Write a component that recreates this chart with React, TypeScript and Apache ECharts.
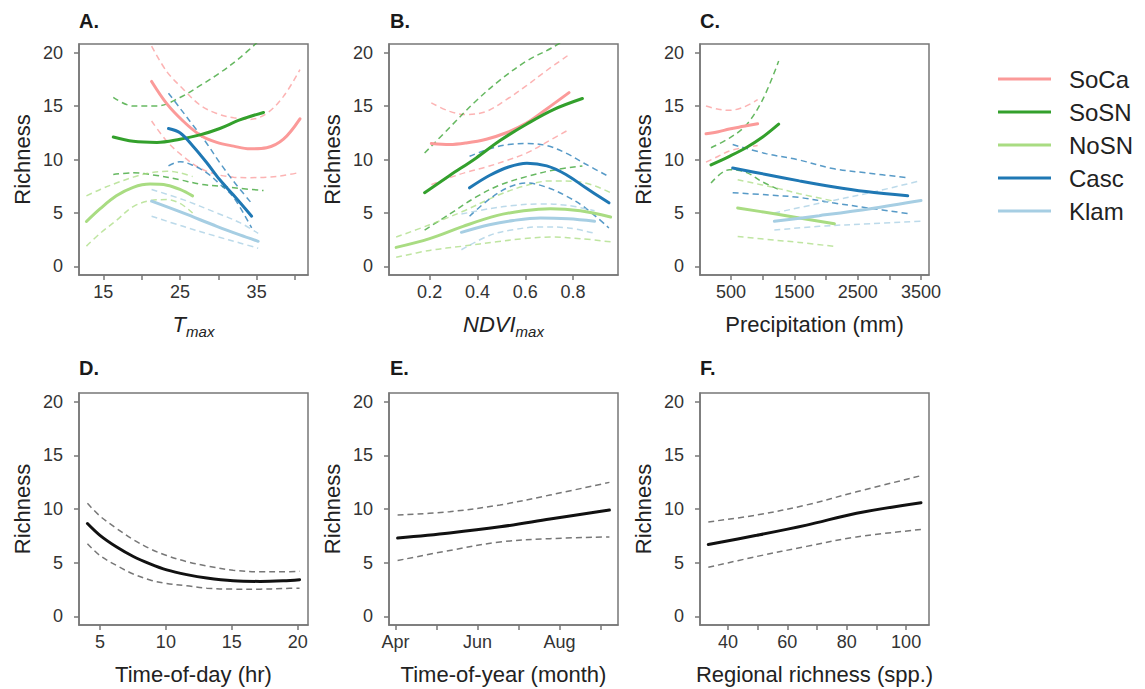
import React, { useEffect, useRef } from "react";
import * as echarts from "echarts";

// ---------- DATA ----------
const REGIONS = ["SoCa", "SoSN", "NoSN", "Casc", "Klam"];
const COLORS = ["#FB9A99", "#33A02C", "#A9DC82", "#1F78B4", "#A6CEE3"];

// Panel A: Tmax
const A_SoCa_x = [21.3, 23.3, 25.4, 27.6, 29.8, 32.0, 34.1, 36.3, 38.5, 40.65];
const A_SoCa_fit = [17.3, 15.2, 13.6, 12.3, 11.6, 11.25, 11.0, 11.1, 11.9, 13.8];
const A_SoCa_hi = [20.6, 18.2, 16.6, 15.1, 14.3, 13.9, 13.75, 14.3, 15.9, 18.4];
const A_SoCa_lo = [13.6, 11.7, 10.3, 9.2, 8.6, 8.35, 8.3, 8.35, 8.5, 8.8];
const A_SoSN_x = [16.3, 18.9, 22.0, 25.0, 27.6, 30.2, 32.8, 35.9];
const A_SoSN_fit = [12.1, 11.7, 11.6, 11.9, 12.3, 12.9, 13.7, 14.4];
const A_SoSN_hi = [15.8, 15.0, 15.0, 15.8, 16.9, 18.1, 19.5, 21.5];
const A_SoSN_lo = [8.6, 8.75, 8.5, 8.1, 7.7, 7.5, 7.3, 7.1];
const A_NoSN_x = [12.8, 14.6, 16.7, 18.9, 21.1, 23.3, 25.0, 26.65];
const A_NoSN_fit = [4.2, 5.4, 6.6, 7.4, 7.7, 7.6, 7.2, 6.6];
const A_NoSN_hi = [6.6, 7.2, 7.8, 8.35, 8.75, 8.9, 8.75, 8.4];
const A_NoSN_lo = [1.9, 3.1, 4.3, 5.6, 6.15, 6.25, 5.9, 5.0];
const A_Casc_x = [23.5, 25.0, 26.7, 28.5, 30.2, 31.95, 34.35];
const A_Casc_fit = [12.9, 12.5, 11.25, 9.7, 8.1, 6.7, 4.7];
const A_Casc_hi = [16.2, 14.8, 13.2, 11.5, 9.7, 8.0, 5.9];
const A_Casc_lo = [9.4, 9.8, 9.45, 8.75, 7.7, 6.5, 3.6];
const A_Klam_x = [21.3, 25.4, 29.8, 32.8, 35.2];
const A_Klam_fit = [6.1, 5.0, 3.75, 2.95, 2.35];
const A_Klam_hi = [7.2, 6.25, 5.0, 4.1, 3.1];
const A_Klam_lo = [4.7, 3.75, 2.8, 2.2, 1.7];

// Panel B: NDVImax
const B_SoCa_x = [0.207, 0.284, 0.353, 0.437, 0.521, 0.605, 0.688, 0.783];
const B_SoCa_fit = [11.5, 11.4, 11.55, 11.9, 12.5, 13.4, 14.7, 16.25];
const B_SoCa_hi = [15.3, 14.5, 14.2, 14.5, 15.6, 16.9, 18.3, 19.8];
const B_SoCa_lo = [7.65, 8.3, 8.8, 9.3, 9.9, 10.6, 11.6, 12.8];
const B_SoSN_x = [0.179, 0.284, 0.395, 0.493, 0.605, 0.716, 0.839];
const B_SoSN_fit = [6.9, 8.5, 10.15, 11.75, 13.3, 14.65, 15.7];
const B_SoSN_hi = [10.6, 13.0, 15.5, 17.4, 19.2, 20.5, 22.2];
const B_SoSN_lo = [3.4, 4.9, 6.5, 7.6, 8.4, 9.0, 9.4];
const B_NoSN_x = [0.06, 0.2, 0.34, 0.48, 0.593, 0.705, 0.83, 0.957];
const B_NoSN_fit = [1.78, 2.6, 3.75, 4.75, 5.2, 5.4, 5.2, 4.62];
const B_NoSN_hi = [2.75, 3.9, 5.16, 6.6, 7.5, 8.0, 7.9, 6.9];
const B_NoSN_lo = [0.85, 1.5, 1.9, 2.3, 2.6, 2.75, 2.6, 2.3];
const B_Casc_x = [0.367, 0.45, 0.53, 0.607, 0.69, 0.77, 0.85, 0.95];
const B_Casc_fit = [7.35, 8.5, 9.3, 9.65, 9.4, 8.6, 7.4, 5.95];
const B_Casc_hi = [10.3, 11.0, 11.4, 11.5, 11.3, 10.6, 9.6, 8.4];
const B_Casc_lo = [4.7, 6.3, 7.4, 7.8, 7.4, 6.6, 5.5, 3.6];
const B_Klam_x = [0.333, 0.45, 0.55, 0.663, 0.78, 0.89];
const B_Klam_fit = [3.19, 3.9, 4.3, 4.53, 4.45, 4.22];
const B_Klam_hi = [4.9, 5.4, 5.7, 5.85, 5.7, 5.2];
const B_Klam_lo = [1.56, 2.9, 3.44, 3.7, 3.6, 3.1];

// Panel C: Precipitation (mm)
const C_SoCa_x = [105, 300, 473, 700, 920];
const C_SoCa_fit = [12.4, 12.6, 12.85, 13.1, 13.34];
const C_SoCa_hi = [15.0, 14.7, 14.6, 14.9, 15.6];
const C_SoCa_lo = [9.75, 10.3, 10.8, 11.1, 11.3];
const C_SoSN_x = [184, 474, 737, 1000, 1252];
const C_SoSN_fit = [9.5, 10.3, 11.1, 12.1, 13.3];
const C_SoSN_hi = [11.1, 12.0, 13.2, 15.6, 19.2];
const C_SoSN_lo = [7.8, 9.05, 8.8, 7.9, 7.2];
const C_NoSN_x = [605, 1211, 1579, 2132];
const C_NoSN_fit = [5.47, 4.9, 4.53, 4.0];
const C_NoSN_hi = [8.1, 7.34, 6.8, 6.1];
const C_NoSN_lo = [2.8, 2.45, 2.25, 1.87];
const C_Casc_x = [526, 1053, 1579, 2105, 2632, 3290];
const C_Casc_fit = [9.2, 8.6, 8.0, 7.45, 7.0, 6.6];
const C_Casc_hi = [11.4, 10.55, 9.95, 9.15, 8.75, 8.3];
const C_Casc_lo = [6.9, 6.7, 6.45, 5.95, 5.5, 4.95];
const C_Klam_x = [1184, 1893, 2700, 3500];
const C_Klam_fit = [4.22, 4.75, 5.4, 6.16];
const C_Klam_hi = [5.0, 5.9, 6.9, 8.03];
const C_Klam_lo = [3.4, 3.75, 4.0, 4.22];

// Panel D: Time-of-day (hr)
const D_x = [4.05, 5, 6.27, 7.53, 8.8, 10.06, 11.58, 13.1, 15.1, 17.15, 18.9, 20.14];
const D_fit = [8.65, 7.55, 6.46, 5.58, 4.89, 4.33, 3.89, 3.57, 3.32, 3.26, 3.32, 3.42];
const D_hi = [10.53, 9.34, 8.18, 7.15, 6.3, 5.67, 5.1, 4.7, 4.3, 4.15, 4.15, 4.2];
const D_lo = [6.77, 5.67, 4.73, 3.95, 3.39, 3.07, 2.85, 2.63, 2.54, 2.54, 2.6, 2.63];

// Panel E: Time-of-year (month number)
const E_x = [4.05, 5.32, 6.55, 7.77, 9.22];
const E_fit = [7.3, 7.77, 8.34, 9.06, 9.9];
const E_hi = [9.44, 9.75, 10.38, 11.3, 12.48];
const E_lo = [5.2, 6.14, 6.93, 7.24, 7.4];

// Panel F: Regional richness (spp.)
const F_x = [33.4, 49.7, 66.5, 83.3, 105];
const F_fit = [6.7, 7.55, 8.5, 9.6, 10.59];
const F_hi = [8.8, 9.44, 10.38, 11.6, 13.1];
const F_lo = [4.57, 5.58, 6.52, 7.4, 8.09];

// Tick values / labels
const Y_TICKS = [0, 5, 10, 15, 20];
const A_TICKS = [15, 20, 25, 30, 35, 40];
const A_LABELS = [15, 25, 35];
const B_TICKS = [0.2, 0.4, 0.6, 0.8];
const C_TICKS = [500, 1000, 1500, 2000, 2500, 3000, 3500];
const C_LABELS = [500, 1500, 2500, 3500];
const D_TICKS = [5, 10, 15, 20];
const E_TICKS = [4, 5, 6, 7, 8, 9];
const E_LABELS = [4, 6, 8];
const MONTHS: Record<number, string> = { 4: "Apr", 6: "Jun", 8: "Aug" };
const F_TICKS = [40, 50, 60, 70, 80, 90, 100];
const F_LABELS = [40, 60, 80, 100];

// ---------- HELPERS ----------
const FONT = '"Liberation Sans", Arial, Helvetica, sans-serif';
const BOX = "#777";

function zip(xs: number[], ys: number[]) {
  return xs.map((x, i) => [x, ys[i]]);
}

function fitSeries(gi: number, name: string, xs: number[], ys: number[], color: string, width = 3) {
  return {
    type: "line",
    name,
    xAxisIndex: gi,
    yAxisIndex: gi,
    data: zip(xs, ys),
    smooth: 0.35,
    showSymbol: false,
    symbol: "none",
    lineStyle: { color, width, type: "solid", cap: "round" },
    itemStyle: { color },
    z: 3,
  };
}

function ciSeries(gi: number, name: string, xs: number[], ys: number[], color: string, opacity = 0.75) {
  return {
    type: "line",
    name,
    xAxisIndex: gi,
    yAxisIndex: gi,
    data: zip(xs, ys),
    smooth: 0.35,
    showSymbol: false,
    symbol: "none",
    lineStyle: { color, width: 1.5, type: [6, 4], opacity },
    itemStyle: { color },
    z: 2,
  };
}

function xAxis(gi: number, min: number, max: number, ticks: number[], labels: number[], name: any, rich?: any, fmt?: (v: number) => string) {
  return {
    type: "value",
    gridIndex: gi,
    min,
    max,
    splitLine: { show: false },
    axisLine: { show: true, onZero: false, lineStyle: { color: BOX, width: 1.5 } },
    axisTick: { show: true, length: 5, customValues: ticks, lineStyle: { color: BOX, width: 1.5 } },
    axisLabel: {
      customValues: labels,
      fontSize: 18,
      color: "#333",
      fontFamily: FONT,
      margin: 8,
      formatter: fmt || ((v: number) => String(v)),
    },
    name,
    nameLocation: "middle",
    nameGap: 38,
    nameTextStyle: { fontSize: 22, color: "#222", fontFamily: FONT, rich },
  };
}

function yAxis(gi: number) {
  return {
    type: "value",
    gridIndex: gi,
    min: -0.8,
    max: 20.8,
    splitLine: { show: false },
    axisLine: { show: true, onZero: false, lineStyle: { color: BOX, width: 1.5 } },
    axisTick: { show: true, length: 5, customValues: Y_TICKS, lineStyle: { color: BOX, width: 1.5 } },
    axisLabel: { customValues: Y_TICKS, fontSize: 18, color: "#333", fontFamily: FONT, margin: 16 },
    name: "Richness",
    nameLocation: "middle",
    nameGap: 46,
    nameTextStyle: { fontSize: 22, color: "#222", fontFamily: FONT },
  };
}

const SUB_RICH = {
  i: { fontSize: 22, fontStyle: "italic", fontFamily: FONT, color: "#222", lineHeight: 26, verticalAlign: "top" },
  s: { fontSize: 15, fontStyle: "italic", fontFamily: FONT, color: "#222", lineHeight: 15, verticalAlign: "bottom" },
};

export default function App() {
  const ref = useRef<HTMLDivElement>(null);

  useEffect(() => {
    if (!ref.current) return;
    const chart = echarts.init(ref.current, undefined, { renderer: "svg" });

    const grids = [
      { left: 79, top: 44, width: 229, height: 231 },
      { left: 389, top: 44, width: 229, height: 231 },
      { left: 700, top: 44, width: 229, height: 231 },
      { left: 79, top: 393, width: 229, height: 232 },
      { left: 389, top: 393, width: 229, height: 232 },
      { left: 700, top: 393, width: 229, height: 232 },
    ].map((g) => ({ ...g, show: true, borderColor: BOX, borderWidth: 1.5, containLabel: false, outerBoundsMode: "none" }));

    const regionData: any[] = [
      [0, [A_SoCa_x, A_SoCa_fit, A_SoCa_hi, A_SoCa_lo], [A_SoSN_x, A_SoSN_fit, A_SoSN_hi, A_SoSN_lo], [A_NoSN_x, A_NoSN_fit, A_NoSN_hi, A_NoSN_lo], [A_Casc_x, A_Casc_fit, A_Casc_hi, A_Casc_lo], [A_Klam_x, A_Klam_fit, A_Klam_hi, A_Klam_lo]],
      [1, [B_SoCa_x, B_SoCa_fit, B_SoCa_hi, B_SoCa_lo], [B_SoSN_x, B_SoSN_fit, B_SoSN_hi, B_SoSN_lo], [B_NoSN_x, B_NoSN_fit, B_NoSN_hi, B_NoSN_lo], [B_Casc_x, B_Casc_fit, B_Casc_hi, B_Casc_lo], [B_Klam_x, B_Klam_fit, B_Klam_hi, B_Klam_lo]],
      [2, [C_SoCa_x, C_SoCa_fit, C_SoCa_hi, C_SoCa_lo], [C_SoSN_x, C_SoSN_fit, C_SoSN_hi, C_SoSN_lo], [C_NoSN_x, C_NoSN_fit, C_NoSN_hi, C_NoSN_lo], [C_Casc_x, C_Casc_fit, C_Casc_hi, C_Casc_lo], [C_Klam_x, C_Klam_fit, C_Klam_hi, C_Klam_lo]],
    ];

    const series: any[] = [];
    regionData.forEach((panel) => {
      const gi = panel[0];
      REGIONS.forEach((r, k) => {
        const [xs, fit] = panel[k + 1];
        series.push(fitSeries(gi, r, xs, fit, COLORS[k]));
      });
    });
    regionData.forEach((panel) => {
      const gi = panel[0];
      REGIONS.forEach((r, k) => {
        const [xs, , hi, lo] = panel[k + 1];
        series.push(ciSeries(gi, r, xs, hi, COLORS[k]));
        series.push(ciSeries(gi, r, xs, lo, COLORS[k]));
      });
    });
    const bottom: any[] = [
      [3, D_x, D_fit, D_hi, D_lo],
      [4, E_x, E_fit, E_hi, E_lo],
      [5, F_x, F_fit, F_hi, F_lo],
    ];
    bottom.forEach(([gi, xs, fit, hi, lo]) => {
      series.push(fitSeries(gi, "overall", xs, fit, "#111", 3));
      series.push(ciSeries(gi, "overall", xs, hi, "#777", 1));
      series.push(ciSeries(gi, "overall", xs, lo, "#777", 1));
    });

    const panelLabel = (t: string, x: number, y: number) => ({
      type: "text",
      x,
      y,
      style: { text: t, font: `bold 20px ${FONT}`, fill: "#1a1a1a", textVerticalAlign: "middle", verticalAlign: "middle" },
    });

    chart.setOption({
      animation: false,
      backgroundColor: "#fff",
      grid: grids,
      xAxis: [
        xAxis(0, 11.83, 41.7, A_TICKS, A_LABELS, "{i|T}{s|max}", SUB_RICH),
        xAxis(1, 0.03, 0.988, B_TICKS, B_TICKS, "{i|NDVI}{s|max}", SUB_RICH),
        xAxis(2, 10, 3626, C_TICKS, C_LABELS, "Precipitation (mm)"),
        xAxis(3, 3.41, 20.78, D_TICKS, D_TICKS, "Time-of-day (hr)"),
        xAxis(4, 3.84, 9.43, E_TICKS, E_LABELS, "Time-of-year (month)", undefined, (v: number) => MONTHS[v] || ""),
        xAxis(5, 30.6, 107.7, F_TICKS, F_LABELS, "Regional richness (spp.)"),
      ],
      yAxis: [0, 1, 2, 3, 4, 5].map(yAxis),
      legend: {
        orient: "vertical",
        left: 993,
        top: 62,
        icon: "rect",
        itemWidth: 53,
        itemHeight: 3,
        itemGap: 9,
        selectedMode: false,
        data: REGIONS,
        textStyle: { fontSize: 24, lineHeight: 24, color: "#222", fontFamily: FONT, padding: [0, 0, 0, 13] },
      },
      graphic: [
        panelLabel("A.", 79, 21),
        panelLabel("B.", 390, 21),
        panelLabel("C.", 700, 21),
        panelLabel("D.", 79, 368),
        panelLabel("E.", 390, 368),
        panelLabel("F.", 700, 368),
      ],
      series,
    });

    return () => chart.dispose();
  }, []);

  return (
    <div
      ref={ref}
      style={{ position: "absolute", left: 0, top: 0, width: 1145, height: 689, background: "#fff" }}
    />
  );
}
